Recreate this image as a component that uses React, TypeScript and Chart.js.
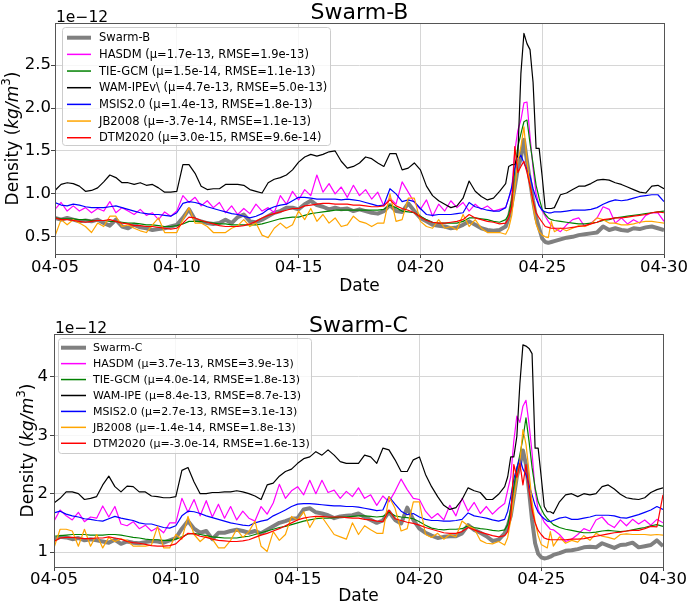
import React, { useEffect, useRef } from "react";
import { Chart, registerables } from "chart.js";

Chart.register(...registerables);

const FAMILY = '"DejaVu Sans", "Liberation Sans", sans-serif';

function sampleRange(from: number, to: number, step: number): number[] {
  const out: number[] = [];
  const n = Math.round((to - from) / step);
  for (let i = 0; i <= n; i++) out.push(+(from + i * step).toFixed(3));
  return out;
}
// sample times in days after 04-05 00:00 (finer sampling around the 04-24 storm)
const sampleDays = [
  ...sampleRange(0, 18.5, 0.25),
  ...sampleRange(18.625, 20.5, 0.125),
  ...sampleRange(20.75, 25, 0.25),
];

const tickDays = [0, 5, 10, 15, 20, 25];
const tickLabels = ["04-05", "04-10", "04-15", "04-20", "04-25", "04-30"];
const yTicksB = [0.5, 1.0, 1.5, 2.0, 2.5];
const yTicksC = [1, 2, 3, 4];

// ---------------- Swarm-B panel (units of 1e-12 kg/m^3) ----------------
const swarmB = [
  0.72,0.70,0.72,0.70, 0.68,0.69,0.68,0.70, 0.66,0.63,0.70,0.62, 0.60,0.64,0.61,0.60, 0.58,0.59,0.60,0.62,
  0.64,0.72,0.82,0.70, 0.68,0.66,0.65,0.66, 0.70,0.66,0.73,0.76, 0.68,0.67,0.70,0.74, 0.78,0.80,0.84,0.84,
  0.82,0.88,0.92,0.87, 0.85,0.82,0.84,0.82, 0.83,0.80,0.82,0.80, 0.78,0.77,0.80,0.87, 0.80,0.79,0.89,0.80,
  0.72,0.68,0.64,0.63, 0.62,0.60,0.61,0.64, 0.68,0.64,0.60,0.58,
  0.57,0.58,0.62,
  0.72,0.88,1.08,1.30,1.42,1.63,1.38,1.15,0.92,0.72,0.60,0.48,0.44,0.43,0.44,0.45,
  0.47,0.49,0.50,0.52,0.53,0.54,0.55,0.62,0.58,0.60,0.58,0.57,0.60,0.59,0.61,0.62,0.60,0.58,
];
const hasdmB = [
  0.82,0.90,0.80,0.86, 0.80,0.84,0.78,0.83, 0.80,0.91,0.78,0.84, 0.80,0.76,0.82,0.75, 0.78,0.70,0.79,0.74,
  0.80,0.98,0.90,0.96, 0.86,0.92,0.84,0.90, 0.78,0.86,0.76,0.83, 0.77,0.88,0.80,0.84, 0.78,0.98,0.88,1.03,
  0.93,1.05,0.98,1.22, 1.02,1.12,1.00,1.08, 0.96,1.10,0.98,1.05, 0.94,1.02,0.86,0.95, 0.88,1.14,1.02,0.90,
  0.82,0.93,0.74,0.88, 0.80,0.92,0.84,0.90, 0.80,0.88,0.82,0.86,
  0.80,0.82,0.84,
  0.95,1.05,1.50,1.74,1.86,2.06,2.07,1.67,1.30,1.00,0.87,0.80,0.74,0.68,0.63,0.60,
  0.56,0.64,0.70,0.72,0.62,0.66,0.72,0.85,0.82,0.66,0.72,0.65,0.70,0.66,0.75,0.78,0.78,0.68,
];
const tiegcmB = [
  0.72,0.71,0.71,0.71, 0.70,0.70,0.69,0.69, 0.69,0.68,0.68,0.67, 0.66,0.66,0.65,0.64, 0.64,0.63,0.62,0.62,
  0.63,0.65,0.68,0.68, 0.68,0.67,0.66,0.65, 0.65,0.64,0.64,0.64, 0.64,0.64,0.65,0.67, 0.69,0.71,0.72,0.73,
  0.73,0.75,0.77,0.78, 0.79,0.80,0.81,0.81, 0.81,0.81,0.81,0.81, 0.81,0.81,0.82,0.87, 0.84,0.80,0.79,0.78,
  0.74,0.70,0.67,0.66, 0.66,0.66,0.66,0.68, 0.72,0.72,0.71,0.70,
  0.68,0.67,0.70,
  0.76,0.93,1.28,1.55,1.70,1.84,1.86,1.59,1.35,1.10,0.95,0.82,0.76,0.72,0.70,0.69,
  0.68,0.67,0.66,0.65,0.65,0.66,0.67,0.69,0.70,0.72,0.73,0.74,0.75,0.76,0.77,0.78,0.79,0.80,
];
const wamB = [
  1.04,1.11,1.13,1.12, 1.09,1.03,1.04,1.07, 1.14,1.22,1.19,1.13, 1.13,1.11,1.13,1.10, 1.11,1.07,1.02,1.02,
  1.03,1.34,1.34,1.24, 1.09,1.05,1.06,1.06, 1.11,1.11,1.11,1.10, 1.05,1.03,1.01,1.13, 1.17,1.19,1.22,1.28,
  1.37,1.43,1.46,1.44, 1.46,1.49,1.50,1.38, 1.30,1.32,1.36,1.43, 1.41,1.36,1.32,1.47, 1.47,1.28,1.30,1.36,
  1.28,1.09,0.98,0.92, 0.88,0.84,0.86,0.95, 1.15,1.03,0.97,0.93,
  0.95,1.03,1.12,
  1.32,1.34,1.34,1.45,2.40,2.87,2.75,2.68,2.30,1.53,1.53,1.20,0.83,0.83,0.83,0.84,
  0.99,1.01,1.05,1.09,1.09,1.12,1.16,1.17,1.16,1.13,1.11,1.08,1.05,1.02,1.01,1.09,1.10,1.06,
];
const msisB = [
  0.90,0.87,0.86,0.88, 0.87,0.85,0.84,0.84, 0.84,0.85,0.86,0.84, 0.82,0.80,0.78,0.77, 0.76,0.76,0.75,0.74,
  0.78,0.89,0.91,0.90, 0.88,0.85,0.83,0.81, 0.79,0.77,0.76,0.74, 0.72,0.74,0.77,0.82, 0.85,0.87,0.88,0.92,
  0.96,0.96,0.95,0.94, 0.94,0.94,0.94,0.93, 0.94,0.93,0.92,0.90, 0.88,0.86,0.87,1.06, 1.00,0.91,0.93,0.91,
  0.83,0.76,0.75,0.76, 0.76,0.76,0.77,0.78, 0.90,0.85,0.83,0.81,
  0.80,0.80,0.84,
  0.95,1.08,1.30,1.40,1.45,1.36,1.28,1.21,1.06,0.95,0.86,0.81,0.79,0.78,0.78,0.79,
  0.79,0.80,0.81,0.81,0.81,0.82,0.84,0.88,0.91,0.93,0.92,0.93,0.95,0.97,0.98,0.99,0.99,0.91,
];
const jb2008B = [
  0.51,0.70,0.64,0.70, 0.66,0.62,0.55,0.66, 0.62,0.74,0.74,0.62, 0.64,0.60,0.57,0.55, 0.64,0.72,0.55,0.55,
  0.55,0.70,0.84,0.66, 0.66,0.62,0.55,0.55, 0.55,0.60,0.63,0.70, 0.62,0.66,0.52,0.49, 0.60,0.66,0.60,0.64,
  0.80,0.70,0.83,0.68, 0.76,0.66,0.72,0.62, 0.64,0.74,0.68,0.66, 0.62,0.66,0.66,1.00, 0.68,0.70,0.95,0.95,
  0.68,0.62,0.60,0.70, 0.60,0.62,0.58,0.76, 0.62,0.70,0.60,0.55,
  0.55,0.55,0.53,
  0.60,0.75,1.05,1.38,1.55,1.78,1.38,1.10,0.86,0.65,0.56,0.52,0.50,0.49,0.68,0.56,
  0.60,0.57,0.60,0.63,0.62,0.65,0.72,0.70,0.66,0.66,0.64,0.64,0.65,0.67,0.68,0.68,0.67,0.66,
];
const dtmB = [
  0.72,0.70,0.70,0.69, 0.68,0.67,0.68,0.69, 0.69,0.70,0.68,0.66, 0.65,0.63,0.63,0.62, 0.62,0.61,0.60,0.59,
  0.60,0.66,0.73,0.72, 0.69,0.67,0.65,0.63, 0.62,0.62,0.62,0.63, 0.65,0.68,0.72,0.75, 0.77,0.79,0.81,0.83,
  0.83,0.86,0.87,0.88, 0.89,0.89,0.88,0.88, 0.88,0.87,0.87,0.86, 0.85,0.85,0.86,0.93, 0.86,0.83,0.81,0.78,
  0.73,0.69,0.67,0.66, 0.66,0.67,0.68,0.70, 0.76,0.72,0.70,0.68,
  0.67,0.65,0.66,
  0.72,0.85,1.55,1.25,1.32,1.38,1.25,1.10,0.92,0.78,0.72,0.67,0.62,0.61,0.60,0.60,
  0.60,0.60,0.61,0.62,0.63,0.65,0.67,0.70,0.71,0.72,0.72,0.73,0.74,0.75,0.76,0.78,0.79,0.78,
];
const legendB = [
  "Swarm-B",
  "HASDM (μ=1.7e-13, RMSE=1.9e-13)",
  "TIE-GCM (μ=1.5e-14, RMSE=1.1e-13)",
  "WAM-IPEv\\ (μ=4.7e-13, RMSE=5.0e-13)",
  "MSIS2.0 (μ=1.4e-13, RMSE=1.8e-13)",
  "JB2008 (μ=-3.7e-14, RMSE=1.1e-13)",
  "DTM2020 (μ=3.0e-15, RMSE=9.6e-14)",
];

// ---------------- Swarm-C panel (units of 1e-12 kg/m^3) ----------------
const swarmC = [
  1.21,1.26,1.25,1.22, 1.24,1.20,1.22,1.20, 1.18,1.16,1.21,1.14, 1.18,1.16,1.15,1.17, 1.19,1.18,1.16,1.20,
  1.24,1.40,1.53,1.40, 1.33,1.36,1.22,1.33, 1.33,1.36,1.38,1.36, 1.33,1.36,1.32,1.38, 1.44,1.50,1.53,1.57,
  1.58,1.73,1.75,1.68, 1.66,1.63,1.58,1.61, 1.62,1.63,1.66,1.60, 1.55,1.50,1.54,1.69, 1.55,1.49,1.76,1.55,
  1.40,1.33,1.28,1.24, 1.26,1.27,1.27,1.32, 1.46,1.38,1.33,1.27,
  1.19,1.21,1.32,
  1.45,1.62,1.95,2.29,2.50,2.74,2.50,2.05,1.55,1.15,0.97,0.91,0.89,0.90,0.92,0.95,
  0.98,1.02,1.03,1.05,1.08,1.09,1.08,1.15,1.11,1.07,1.12,1.13,1.16,1.08,1.10,1.12,1.20,1.10,
];
const hasdmC = [
  1.53,1.72,1.62,1.55, 1.68,1.52,1.60,1.58, 1.79,1.60,1.78,1.48, 1.45,1.52,1.40,1.46, 1.36,1.42,1.33,1.50,
  1.50,1.92,1.68,1.90, 1.62,1.88,1.60,1.82, 1.58,1.78,1.55,1.70, 1.58,1.53,1.78,1.65, 1.84,2.16,1.92,2.05,
  2.12,1.98,2.23,2.00, 2.23,2.02,2.06,1.92, 2.04,1.95,2.10,1.92, 1.98,1.80,1.96,1.86, 2.04,2.25,2.07,1.92,
  1.90,1.70,1.58,1.66, 1.55,1.80,1.62,1.92, 1.70,1.85,1.66,1.78,
  1.65,1.75,1.83,
  2.06,2.29,2.90,3.33,3.22,3.50,3.60,3.20,2.70,2.05,1.72,1.62,1.51,1.45,1.39,1.38,
  1.30,1.18,1.22,1.30,1.40,1.36,1.55,1.60,1.48,1.42,1.55,1.45,1.56,1.48,1.55,1.46,1.56,1.50,
];
const tiegcmC = [
  1.27,1.28,1.29,1.30, 1.30,1.30,1.29,1.29, 1.29,1.30,1.30,1.29, 1.27,1.25,1.24,1.22, 1.21,1.21,1.20,1.20,
  1.22,1.26,1.31,1.32, 1.30,1.28,1.26,1.25, 1.24,1.24,1.24,1.26, 1.27,1.30,1.33,1.36, 1.39,1.42,1.44,1.47,
  1.50,1.53,1.55,1.57, 1.58,1.58,1.59,1.60, 1.60,1.61,1.62,1.62, 1.61,1.60,1.61,1.68, 1.62,1.60,1.59,1.57,
  1.52,1.46,1.41,1.39, 1.38,1.39,1.39,1.40, 1.45,1.42,1.40,1.39,
  1.37,1.36,1.38,
  1.47,1.75,2.12,2.42,2.67,2.95,3.30,2.90,2.45,2.10,1.86,1.74,1.64,1.57,1.52,1.47,
  1.42,1.39,1.37,1.35,1.33,1.33,1.34,1.36,1.37,1.36,1.35,1.36,1.38,1.40,1.42,1.45,1.47,1.44,
];
const wamC = [
  1.84,1.92,2.03,2.03, 2.00,1.90,1.92,1.95, 2.15,2.30,2.12,2.03, 2.13,2.12,2.03,2.03, 1.96,1.95,1.93,1.93,
  1.95,2.40,2.45,2.20, 2.00,2.00,2.02,2.02, 2.03,2.03,2.05,2.03, 2.00,1.96,1.90,2.15, 2.18,2.30,2.38,2.42,
  2.52,2.60,2.63,2.72, 2.66,2.75,2.66,2.55, 2.52,2.52,2.52,2.66, 2.63,2.52,2.78,2.75, 2.58,2.38,2.38,2.58,
  2.63,2.33,2.12,1.95, 1.80,1.73,1.76,1.90, 2.10,2.05,2.02,1.90,
  1.90,1.99,2.12,
  2.29,2.63,2.63,2.98,3.89,4.55,4.53,4.49,4.40,2.78,2.78,2.29,1.78,1.69,1.69,1.66,
  1.86,1.98,2.00,1.95,2.00,1.98,2.00,2.12,2.15,2.08,1.99,1.93,1.91,1.90,1.93,2.02,2.07,2.10,
];
const msisC = [
  1.67,1.70,1.65,1.62, 1.60,1.57,1.56,1.54, 1.53,1.57,1.61,1.58, 1.56,1.54,1.50,1.48, 1.48,1.45,1.42,1.41,
  1.45,1.62,1.70,1.69, 1.66,1.62,1.59,1.56, 1.53,1.50,1.48,1.46, 1.45,1.50,1.53,1.55, 1.62,1.67,1.72,1.78,
  1.82,1.83,1.83,1.82, 1.81,1.80,1.79,1.79, 1.78,1.78,1.77,1.75, 1.73,1.71,1.72,1.95, 1.82,1.70,1.64,1.66,
  1.60,1.56,1.54,1.54, 1.53,1.53,1.54,1.56, 1.67,1.62,1.60,1.58,
  1.55,1.53,1.56,
  1.70,1.95,2.25,2.45,2.61,2.42,2.33,2.15,1.98,1.80,1.68,1.62,1.57,1.53,1.52,1.54,
  1.58,1.60,1.56,1.56,1.58,1.60,1.63,1.63,1.63,1.62,1.59,1.58,1.61,1.64,1.68,1.72,1.78,1.73,
];
const jb2008C = [
  1.07,1.39,1.39,1.36, 1.10,1.39,1.10,1.30, 1.07,1.25,1.18,1.22, 1.20,1.10,1.10,1.10, 1.12,1.44,1.07,1.07,
  1.30,1.22,1.61,1.30, 1.18,1.27,1.22,1.07, 1.07,1.20,1.39,1.25, 1.35,1.53,1.10,1.01, 1.35,1.20,1.30,1.61,
  1.55,1.69,1.42,1.60, 1.60,1.45,1.30,1.26, 1.22,1.50,1.30,1.45, 1.38,1.32,1.32,1.95, 1.75,1.36,1.40,1.86,
  1.86,1.30,1.25,1.32, 1.22,1.30,1.26,1.53, 1.45,1.40,1.20,1.15,
  1.14,1.18,1.12,
  1.25,1.55,1.90,2.23,2.55,3.10,2.85,2.38,1.85,1.52,1.28,1.13,1.10,1.07,1.35,1.10,
  1.26,1.15,1.20,1.17,1.28,1.20,1.32,1.27,1.25,1.22,1.30,1.31,1.30,1.30,1.30,1.29,1.30,1.29,
];
const dtmC = [
  1.18,1.24,1.25,1.25, 1.24,1.23,1.23,1.24, 1.24,1.26,1.24,1.22, 1.18,1.16,1.15,1.13, 1.11,1.10,1.10,1.11,
  1.14,1.24,1.32,1.31, 1.27,1.25,1.22,1.20, 1.19,1.18,1.18,1.19, 1.21,1.25,1.29,1.32, 1.36,1.40,1.45,1.50,
  1.55,1.58,1.60,1.61, 1.61,1.60,1.60,1.60, 1.59,1.58,1.58,1.56, 1.55,1.53,1.52,1.72, 1.57,1.54,1.51,1.49,
  1.46,1.42,1.39,1.36, 1.33,1.32,1.32,1.35, 1.42,1.38,1.34,1.31,
  1.28,1.26,1.28,
  1.35,1.60,2.50,2.28,2.52,2.15,2.50,2.05,1.72,1.50,1.37,1.30,1.24,1.22,1.21,1.21,
  1.21,1.21,1.22,1.22,1.23,1.25,1.27,1.29,1.31,1.33,1.34,1.36,1.37,1.37,1.40,1.44,1.43,1.98,
];
const legendC = [
  "Swarm-C",
  "HASDM (μ=3.7e-13, RMSE=3.9e-13)",
  "TIE-GCM (μ=4.0e-14, RMSE=1.8e-13)",
  "WAM-IPE (μ=8.4e-13, RMSE=8.7e-13)",
  "MSIS2.0 (μ=2.7e-13, RMSE=3.1e-13)",
  "JB2008 (μ=-1.4e-14, RMSE=1.8e-13)",
  "DTM2020 (μ=-3.0e-14, RMSE=1.6e-13)",
];

// ---------------- styling ----------------
const SERIES_COLORS = ["#808080", "#ff00ff", "#008000", "#000000", "#0000ff", "#ffa500", "#ff0000"];
const SERIES_WIDTHS = [4, 1.2, 1.2, 1.2, 1.2, 1.2, 1.2];
const GRID = "#d6d6d6";
const FRAME = "#555555";

type Panel = {
  title: string;
  offsetTop: number;
  canvasHeight: number;
  area: { left: number; right: number; top: number; bottom: number };
  yMin: number;
  yMax: number;
  yTicks: number[];
  yDecimals: number;
  yTickPad: number;
  xTickPad: number;
  titleBaseline: number;
  yLabelX: number;
  dateBaseline: number;
  legend: { x: number; y: number; w: number; h: number; l0: number; l1: number; tx: number; row0: number; gap: number; font: number };
  names: string[];
  values: number[][];
};

const panelB: Panel = {
  title: "Swarm-B",
  offsetTop: 0,
  canvasHeight: 300,
  area: { left: 55, right: 664, top: 23, bottom: 254 },
  yMin: 0.30,
  yMax: 2.99,
  yTicks: yTicksB,
  yDecimals: 1,
  yTickPad: 0,
  xTickPad: 0,
  titleBaseline: 19,
  yLabelX: 17.5,
  dateBaseline: 291,
  legend: { x: 62, y: 27, w: 268, h: 118, l0: 67, l1: 91, tx: 99, row0: 37.7, gap: 16.67, font: 11.5 },
  names: legendB,
  values: [swarmB, hasdmB, tiegcmB, wamB, msisB, jb2008B, dtmB],
};

const panelC: Panel = {
  title: "Swarm-C",
  offsetTop: 300,
  canvasHeight: 305,
  area: { left: 54, right: 663, top: 34, bottom: 267 },
  yMin: 0.743,
  yMax: 4.737,
  yTicks: yTicksC,
  yDecimals: 0,
  yTickPad: 2,
  xTickPad: -1,
  titleBaseline: 31.5,
  yLabelX: 32.5,
  dateBaseline: 301,
  legend: { x: 58, y: 38, w: 253, h: 115, l0: 61, l1: 86, tx: 93, row0: 47.7, gap: 15.93, font: 11 },
  names: legendC,
  values: [swarmC, hasdmC, tiegcmC, wamC, msisC, jb2008C, dtmC],
};

function drawYLabel(ctx: CanvasRenderingContext2D, bx: number, cy: number, size: number) {
  const parts = [
    { t: "Density (", f: `${size}px ${FAMILY}`, dy: 0 },
    { t: "kg/m", f: `italic ${size}px ${FAMILY}`, dy: 0 },
    { t: "3", f: `${(size * 0.7).toFixed(1)}px ${FAMILY}`, dy: -size * 0.42 },
    { t: ")", f: `${size}px ${FAMILY}`, dy: 0 },
  ];
  let total = 0;
  const widths = parts.map((p) => {
    ctx.font = p.f;
    const w = ctx.measureText(p.t).width;
    total += w;
    return w;
  });
  ctx.save();
  ctx.translate(bx, cy);
  ctx.rotate(-Math.PI / 2);
  ctx.fillStyle = "#000";
  ctx.textAlign = "left";
  ctx.textBaseline = "alphabetic";
  let x = -total / 2;
  parts.forEach((p, i) => {
    ctx.font = p.f;
    ctx.fillText(p.t, x, p.dy);
    x += widths[i];
  });
  ctx.restore();
}

function decorPlugin(p: Panel) {
  return {
    id: "decor" + p.title,
    afterDatasetsDraw(chart: any) {
      const ctx: CanvasRenderingContext2D = chart.ctx;
      const a = chart.chartArea;
      ctx.save();
      // frame
      ctx.strokeStyle = FRAME;
      ctx.lineWidth = 1;
      ctx.strokeRect(Math.round(a.left) + 0.5, Math.round(a.top) + 0.5, Math.round(a.right - a.left), Math.round(a.bottom - a.top));

      // legend
      const L = p.legend;
      ctx.beginPath();
      if ((ctx as any).roundRect) (ctx as any).roundRect(L.x + 0.5, L.y + 0.5, L.w, L.h, 3);
      else ctx.rect(L.x + 0.5, L.y + 0.5, L.w, L.h);
      ctx.fillStyle = "rgba(255,255,255,0.8)";
      ctx.fill();
      ctx.strokeStyle = "#cccccc";
      ctx.lineWidth = 1;
      ctx.stroke();
      ctx.font = `${L.font}px ${FAMILY}`;
      ctx.textAlign = "left";
      ctx.textBaseline = "middle";
      p.names.forEach((name, i) => {
        const y = L.row0 + i * L.gap;
        ctx.beginPath();
        ctx.moveTo(L.l0, y);
        ctx.lineTo(L.l1, y);
        ctx.strokeStyle = SERIES_COLORS[i];
        ctx.lineWidth = i === 0 ? 4 : 1.5;
        ctx.stroke();
        ctx.fillStyle = "#000";
        ctx.fillText(name, L.tx, y + 0.5);
      });

      // title
      ctx.fillStyle = "#000";
      ctx.font = `22px ${FAMILY}`;
      ctx.textAlign = "center";
      ctx.textBaseline = "alphabetic";
      ctx.fillText(p.title, (a.left + a.right) / 2, p.titleBaseline);

      // offset text
      ctx.font = `15.5px ${FAMILY}`;
      ctx.textAlign = "left";
      ctx.fillText("1e\u221212", a.left + 1, a.top - 1.5);

      // x label
      ctx.font = `17px ${FAMILY}`;
      ctx.textAlign = "center";
      ctx.fillText("Date", (a.left + a.right) / 2, p.dateBaseline);
      ctx.restore();

      // y label
      drawYLabel(ctx, p.yLabelX, (a.top + a.bottom) / 2, 17);
    },
  };
}

function buildChart(canvas: HTMLCanvasElement, p: Panel) {
  const a = p.area;
  const tickFont = { family: FAMILY, size: 16.5 };
  return new Chart(canvas, {
    type: "line",
    data: {
      datasets: p.names.map((name, i) => ({
        label: name,
        data: sampleDays.map((d, k) => ({ x: d, y: p.values[i][k] })),
        borderColor: SERIES_COLORS[i],
        backgroundColor: SERIES_COLORS[i],
        borderWidth: SERIES_WIDTHS[i],
        pointRadius: 0,
        pointHoverRadius: 0,
        tension: 0,
        fill: false,
        order: 6 - i,
        borderJoinStyle: "round" as const,
      })),
    },
    options: {
      animation: false,
      responsive: false,
      devicePixelRatio: 1,
      events: [],
      layout: { padding: { left: 0, top: a.top, right: 690 - a.right, bottom: 0 } },
      plugins: { legend: { display: false }, title: { display: false }, tooltip: { enabled: false } },
      scales: {
        x: {
          type: "linear",
          min: 0,
          max: 25,
          bounds: "data",
          afterBuildTicks: (s: any) => {
            s.ticks = tickDays.map((v) => ({ value: v }));
          },
          afterFit: (s: any) => {
            s.height = p.canvasHeight - a.bottom;
          },
          ticks: {
            autoSkip: false,
            maxRotation: 0,
            minRotation: 0,
            padding: p.xTickPad,
            color: "#000",
            font: tickFont,
            callback: (v: any) => {
              const idx = tickDays.indexOf(Number(v));
              return idx >= 0 ? tickLabels[idx] : "";
            },
          },
          grid: { color: GRID, lineWidth: 1, drawTicks: true, tickLength: 4, tickColor: "#444" },
          border: { display: false },
        },
        y: {
          type: "linear",
          min: p.yMin,
          max: p.yMax,
          bounds: "data",
          afterBuildTicks: (s: any) => {
            s.ticks = p.yTicks.map((v) => ({ value: v }));
          },
          afterFit: (s: any) => {
            s.width = a.left;
          },
          ticks: {
            padding: p.yTickPad,
            color: "#000",
            font: tickFont,
            callback: (v: any) => Number(v).toFixed(p.yDecimals),
          },
          grid: { color: GRID, lineWidth: 1, drawTicks: true, tickLength: 4, tickColor: "#444" },
          border: { display: false },
        },
      },
    } as any,
    plugins: [decorPlugin(p)],
  });
}

function PanelChart({ p }: { p: Panel }) {
  const ref = useRef<HTMLCanvasElement | null>(null);
  useEffect(() => {
    if (!ref.current) return;
    const chart = buildChart(ref.current, p);
    return () => chart.destroy();
  }, [p]);
  return (
    <canvas
      ref={ref}
      width={690}
      height={p.canvasHeight}
      style={{ position: "absolute", left: 0, top: p.offsetTop, width: 690, height: p.canvasHeight, display: "block" }}
    />
  );
}

export default function App() {
  return (
    <div style={{ position: "absolute", left: 0, top: 0, width: 690, height: 605, background: "#ffffff" }}>
      <PanelChart p={panelB} />
      <PanelChart p={panelC} />
    </div>
  );
}
